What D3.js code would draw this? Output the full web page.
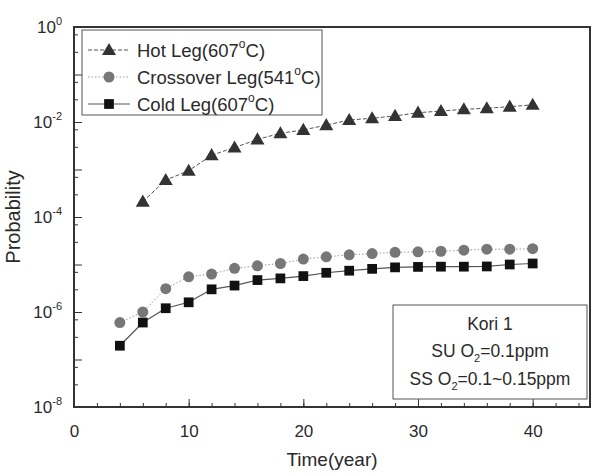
<!DOCTYPE html>
<html>
<head>
<meta charset="utf-8">
<script src="https://cdn.jsdelivr.net/npm/d3@7"></script>
<style>
body { margin: 0; background: #fff; }
svg text { font-family: Arial, "Liberation Sans", sans-serif; fill: #2a2a2a; }
</style>
</head>
<body>
<figure style="margin:0"></figure>
<script>
var W = 596, H = 474;
var margin = {top: 27, right: 6, bottom: 67, left: 74},
    width = W - margin.left - margin.right,
    height = H - margin.top - margin.bottom;

// data
var hotYears = [6, 8, 10, 12, 14, 16, 18, 20, 22, 24, 26, 28, 30, 32, 34, 36, 38, 40];
var hotProb = [2.1e-4, 6e-4, 9.4e-4, 2e-3, 2.9e-3, 4.3e-3, 5.8e-3, 6.8e-3, 8.6e-3, 1.1e-2,
               1.2e-2, 1.34e-2, 1.57e-2, 1.7e-2, 1.85e-2, 1.95e-2, 2.1e-2, 2.3e-2];
var coldYears = [4, 6, 8, 10, 12, 14, 16, 18, 20, 22, 24, 26, 28, 30, 32, 34, 36, 38, 40];
var crossProb = [6.0e-7, 1.0e-6, 3.1e-6, 5.5e-6, 6.3e-6, 8.3e-6, 9.4e-6, 1.05e-5, 1.3e-5, 1.45e-5,
                 1.6e-5, 1.7e-5, 1.8e-5, 1.85e-5, 1.9e-5, 2.0e-5, 2.1e-5, 2.1e-5, 2.15e-5];
var coldProb = [1.95e-7, 6.0e-7, 1.2e-6, 1.6e-6, 3.0e-6, 3.6e-6, 4.7e-6, 5.1e-6, 5.7e-6, 6.7e-6,
                7.4e-6, 8.1e-6, 8.7e-6, 8.9e-6, 9.0e-6, 9.0e-6, 9.1e-6, 1.0e-5, 1.05e-5];
var xTicks = [0, 10, 20, 30, 40];
var yExp = [0, -2, -4, -6, -8];
var legendNames = ["Hot Leg(607", "Crossover Leg(541", "Cold Leg(607"];
var noteLines = ["Kori 1", "SU O", "SS O"];

var svg = d3.select("figure").append("svg")
    .attr("width", W).attr("height", H);
var g = svg.append("g")
    .attr("transform", "translate(" + margin.left + "," + margin.top + ")");

var x = d3.scaleLinear().domain([0, 45]).range([0, width]);
var y = d3.scaleLog().domain([1e-8, 1]).range([height, 0]);

// x axis, ticks inward
var xMinor = d3.range(0, 45, 2);
g.append("g").attr("transform", "translate(0," + height + ")")
  .call(d3.axisBottom(x).tickValues(xMinor).tickSize(-4).tickFormat(""))
  .call(function(a) { a.select(".domain").remove(); a.selectAll("line").attr("stroke", "#333"); });
g.append("g").attr("transform", "translate(0," + height + ")")
  .call(d3.axisBottom(x).tickValues(xTicks).tickSize(-8).tickPadding(18).tickFormat(d3.format("d")))
  .call(function(a) {
    a.select(".domain").remove();
    a.selectAll("line").attr("stroke", "#333");
    a.selectAll("text").attr("font-size", 17).attr("fill", "#2a2a2a")
      .attr("font-family", "Arial, 'Liberation Sans', sans-serif");
  });

// y axis: major every decade, minor ticks inside
var yMajor = d3.range(-8, 1).map(function(e) { return Math.pow(10, e); });
var yMin = [];
d3.range(-8, 0).forEach(function(e) { yMin.push(3 * Math.pow(10, e), 7 * Math.pow(10, e)); });
g.append("g")
  .call(d3.axisLeft(y).tickValues(yMin).tickSize(-4).tickFormat(""))
  .call(function(a) { a.select(".domain").remove(); a.selectAll("line").attr("stroke", "#333"); });
g.append("g")
  .call(d3.axisLeft(y).tickValues(yMajor).tickSize(-8).tickFormat(""))
  .call(function(a) { a.select(".domain").remove(); a.selectAll("line").attr("stroke", "#333"); });

var ylab = g.append("g").selectAll("text").data(yExp).enter().append("text")
    .attr("x", -12).attr("y", function(d) { return y(Math.pow(10, d)) + 6; })
    .attr("text-anchor", "end").attr("font-size", 17);
ylab.append("tspan").text("10");
ylab.append("tspan").attr("dy", -8).attr("font-size", 11).text(function(d) { return d; });

// frame
g.append("rect").attr("width", width).attr("height", height)
  .attr("fill", "none").attr("stroke", "#333").attr("stroke-width", 2);

// axis titles
svg.append("text").attr("x", margin.left + x(22.5)).attr("y", 466)
  .attr("text-anchor", "middle").attr("font-size", 19).text("Time(year)");
svg.append("text").attr("transform", "translate(20," + (margin.top + y(1e-4)) + ") rotate(-90)")
  .attr("text-anchor", "middle").attr("font-size", 20).text("Probability");

var line = d3.line().x(function(d) { return x(d[0]); }).y(function(d) { return y(d[1]); });
var hot = d3.zip(hotYears, hotProb),
    cross = d3.zip(coldYears, crossProb),
    cold = d3.zip(coldYears, coldProb);

var tri = d3.symbol().type(d3.symbolTriangle).size(85);
var sq = d3.symbol().type(d3.symbolSquare).size(95);

// series
g.append("path").datum(cross).attr("d", line).attr("fill", "none")
  .attr("stroke", "#999").attr("stroke-width", 1).attr("stroke-dasharray", "1.5,2");
g.append("path").datum(cold).attr("d", line).attr("fill", "none")
  .attr("stroke", "#555").attr("stroke-width", 1.2);
g.append("path").datum(hot).attr("d", line).attr("fill", "none")
  .attr("stroke", "#555").attr("stroke-width", 1).attr("stroke-dasharray", "4,2");

g.selectAll(".cr").data(cross).enter().append("circle").attr("class", "cr")
  .attr("cx", function(d) { return x(d[0]); }).attr("cy", function(d) { return y(d[1]); })
  .attr("r", 5.5).attr("fill", "#777");
g.selectAll(".co").data(cold).enter().append("path").attr("class", "co")
  .attr("transform", function(d) { return "translate(" + x(d[0]) + "," + y(d[1]) + ")"; })
  .attr("d", sq).attr("fill", "#111");
g.selectAll(".ho").data(hot).enter().append("path").attr("class", "ho")
  .attr("transform", function(d) { return "translate(" + x(d[0]) + "," + (y(d[1]) + 1) + ")"; })
  .attr("d", tri).attr("fill", "#333");

// legend
var leg = svg.append("g").attr("transform", "translate(82,30)");
leg.append("rect").attr("width", 240).attr("height", 85)
  .attr("fill", "#fff").attr("stroke", "#555").attr("stroke-width", 1);
var rowY = [20, 47, 74];
var lstyle = [
  {stroke: "#555", dash: "4,2"},
  {stroke: "#999", dash: "1.5,2"},
  {stroke: "#555", dash: null}
];
legendNames.forEach(function(name, i) {
  var r = leg.append("g").attr("transform", "translate(0," + rowY[i] + ")");
  r.append("line").attr("x1", 6).attr("x2", 48)
    .attr("stroke", lstyle[i].stroke).attr("stroke-dasharray", lstyle[i].dash);
  if (i === 0) r.append("path").attr("transform", "translate(27,1)").attr("d", tri).attr("fill", "#333");
  if (i === 1) r.append("circle").attr("cx", 27).attr("r", 5.5).attr("fill", "#777");
  if (i === 2) r.append("path").attr("transform", "translate(27,0)").attr("d", sq).attr("fill", "#111");
  var t = r.append("text").attr("x", 55).attr("y", 7).attr("font-size", 18.5);
  t.append("tspan").text(name);
  t.append("tspan").attr("dy", -9).attr("font-size", 12).text("o");
  t.append("tspan").attr("dy", 9).text("C)");
});

// note box
var note = svg.append("g").attr("transform", "translate(393,305)");
note.append("rect").attr("width", 194).attr("height", 94)
  .attr("fill", "#fff").attr("stroke", "#555").attr("stroke-width", 1);
note.append("text").attr("x", 97).attr("y", 25).attr("text-anchor", "middle")
  .attr("font-size", 17.5).text(noteLines[0]);
var n1 = note.append("text").attr("x", 97).attr("y", 52).attr("text-anchor", "middle").attr("font-size", 17.5);
n1.append("tspan").text(noteLines[1]);
n1.append("tspan").attr("dy", 5).attr("font-size", 11).text("2");
n1.append("tspan").attr("dy", -5).text("=0.1ppm");
var n2 = note.append("text").attr("x", 97).attr("y", 80).attr("text-anchor", "middle").attr("font-size", 17.5);
n2.append("tspan").text(noteLines[2]);
n2.append("tspan").attr("dy", 5).attr("font-size", 11).text("2");
n2.append("tspan").attr("dy", -5).text("=0.1~0.15ppm");
</script>
</body>
</html>
